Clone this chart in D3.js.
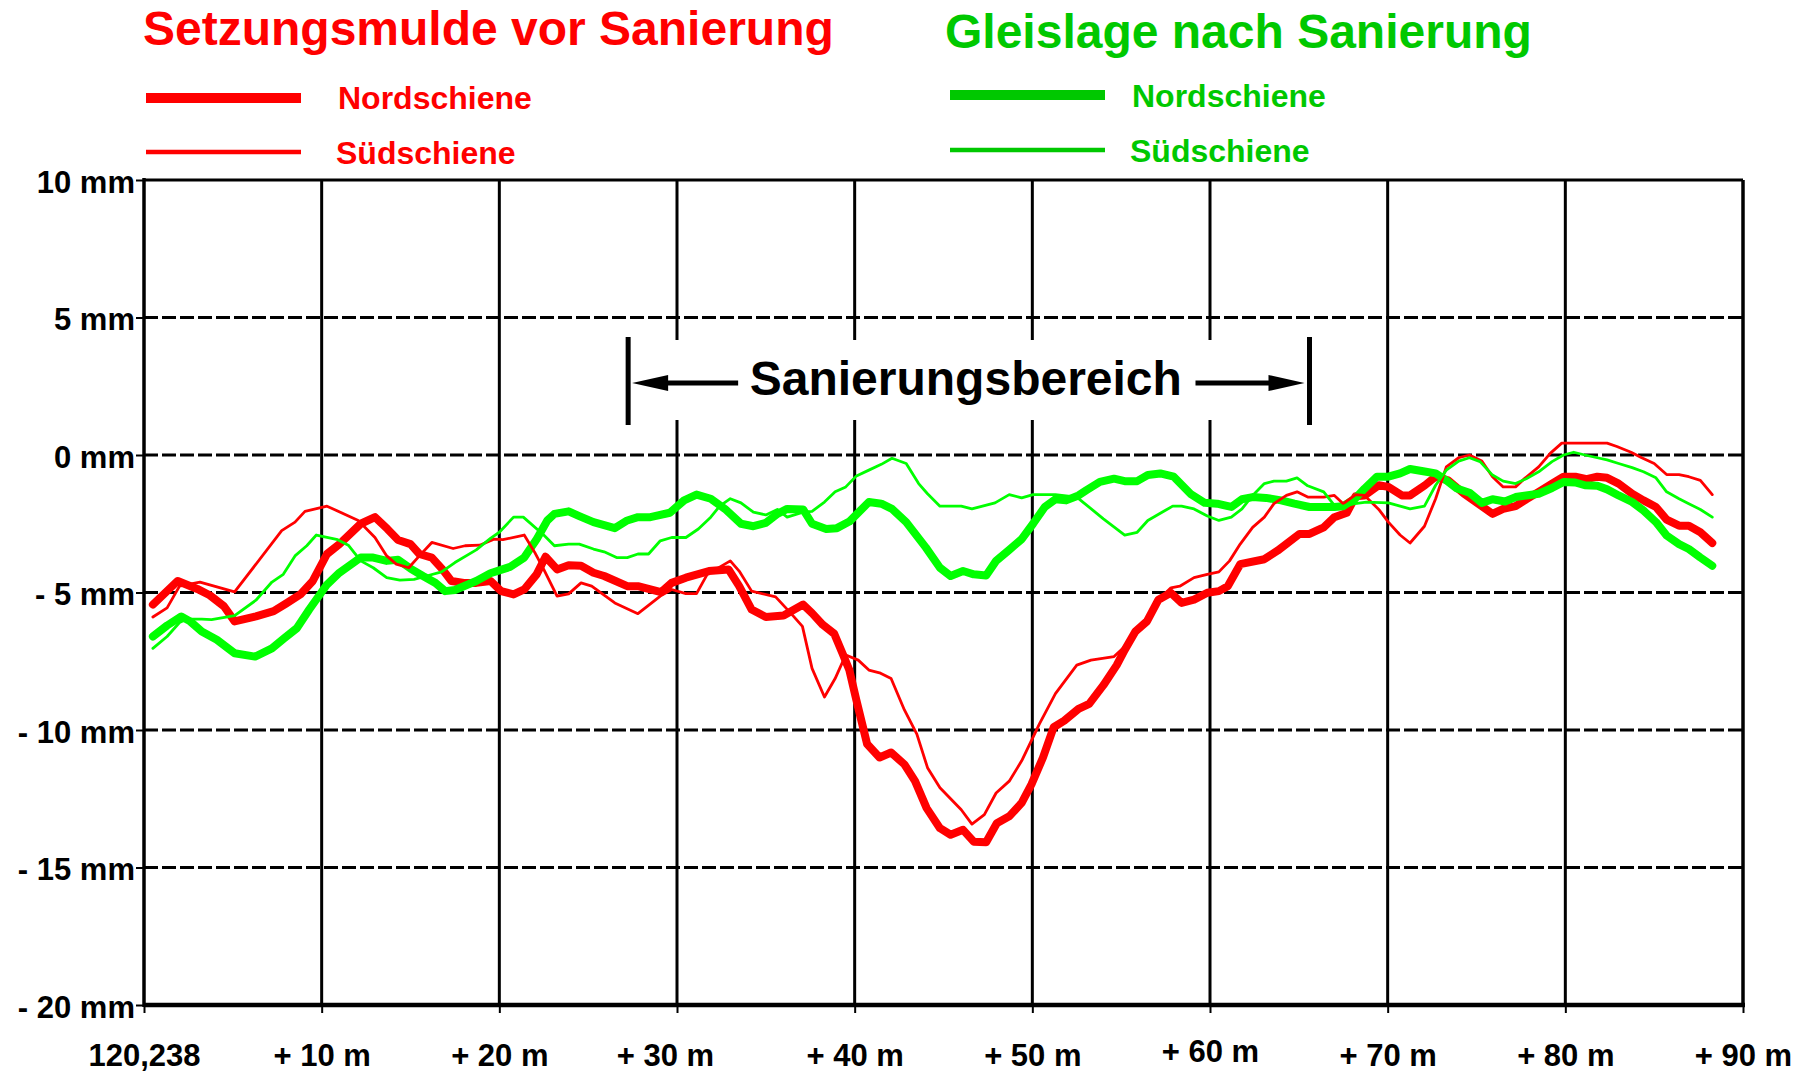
<html>
<head>
<script src="https://cdn.jsdelivr.net/npm/d3@7"></script>
<style>
    body {
        margin: 0;
        background: white;
        font-family: "Liberation Sans", Arial, Helvetica, sans-serif;
    }
    text {
        font-weight: bold;
    }
</style>
</head>
<body>
<svg id="Chart"></svg>

<script>
    // Data: [station in m after km 120,238 , height in mm]
    let redNord = [
        [0.5,-5.44],[1.9,-4.58],[3.0,-4.87],[3.7,-5.1],[4.5,-5.5],[5.1,-6.05],[6.3,-5.87],[7.3,-5.68],[8.0,-5.4],
        [8.8,-5.07],[9.5,-4.58],[10.3,-3.6],[11.0,-3.24],[12.2,-2.5],[13.0,-2.26],[13.7,-2.69],[14.3,-3.09],
        [15.0,-3.24],[15.5,-3.6],[16.2,-3.73],[16.8,-4.16],[17.3,-4.58],[18.0,-4.65],[18.7,-4.65],[19.5,-4.58],
        [20.1,-4.95],[20.8,-5.07],[21.4,-4.89],[22.1,-4.34],[22.6,-3.7],[23.25,-4.16],[23.9,-4.01],[24.6,-4.03],
        [25.3,-4.28],[25.9,-4.4],[27.2,-4.77],[27.8,-4.77],[29.1,-4.99],[29.7,-4.65],[30.5,-4.46],[31.8,-4.22],
        [32.9,-4.16],[33.5,-4.77],[34.2,-5.62],[35.0,-5.89],[36.0,-5.84],[37.1,-5.44],[37.6,-5.75],[38.2,-6.17],
        [38.85,-6.5],[39.3,-7.19],[39.7,-7.82],[40.1,-8.92],[40.4,-9.72],[40.7,-10.51],[41.4,-11.0],[42.05,-10.82],
        [42.8,-11.25],[43.4,-11.86],[44.05,-12.84],[44.8,-13.57],[45.4,-13.81],[46.1,-13.63],[46.7,-14.06],
        [47.4,-14.08],[48.0,-13.39],[48.7,-13.14],[49.4,-12.65],[49.95,-11.98],[50.6,-11.0],[51.2,-9.9],
        [51.8,-9.66],[52.6,-9.23],[53.2,-9.05],[54.0,-8.37],[54.75,-7.64],[55.2,-7.09],[55.8,-6.42],[56.45,-6.05],
        [57.1,-5.26],[57.8,-5.01],[58.4,-5.38],[59.1,-5.26],[59.85,-5.01],[60.5,-4.95],[61.0,-4.77],[61.7,-3.97],
        [63.06,-3.79],[63.8,-3.48],[65.04,-2.87],[65.6,-2.87],[66.4,-2.63],[67.0,-2.26],[67.7,-2.1],[68.2,-1.5],
        [68.7,-1.47],[69.5,-1.1],[70.04,-1.16],[70.8,-1.47],[71.26,-1.47],[72.1,-1.1],[72.7,-0.79],[73.4,-0.92],
        [74.3,-1.41],[75.1,-1.77],[75.9,-2.14],[76.5,-1.96],[77.2,-1.86],[77.8,-1.61],[78.5,-1.34],[79.25,-1.04],
        [79.9,-0.79],[80.56,-0.79],[81.2,-0.88],[81.8,-0.79],[82.35,-0.83],[83.0,-1.04],[83.76,-1.41],[84.4,-1.65],
        [85.1,-1.89],[85.7,-2.35],[86.4,-2.57],[86.95,-2.57],[87.6,-2.81],[88.27,-3.2]
    ];

    let redSued = [
        [0.5,-5.89],[1.3,-5.56],[2.0,-4.77],[3.15,-4.62],[5.1,-4.98],[7.75,-2.75],[8.5,-2.44],[9.06,-2.05],
        [10.3,-1.86],[12.06,-2.38],[13.0,-3.0],[13.66,-3.67],[14.2,-3.97],[14.9,-4.1],[15.5,-3.67],[16.2,-3.18],
        [17.4,-3.4],[18.07,-3.3],[18.9,-3.28],[19.7,-3.06],[20.2,-3.08],[21.4,-2.91],[22.0,-3.55],[22.5,-4.16],
        [23.25,-5.13],[23.9,-5.05],[24.6,-4.65],[25.2,-4.77],[26.5,-5.38],[27.8,-5.77],[29.06,-5.13],[29.7,-4.89],
        [30.5,-5.04],[31.1,-5.04],[31.7,-4.34],[33.0,-3.85],[33.5,-4.22],[34.2,-4.95],[35.55,-5.16],[36.4,-5.75],
        [37.06,-6.23],[37.6,-7.76],[38.3,-8.8],[38.9,-8.13],[39.5,-7.27],[40.2,-7.46],[40.8,-7.82],[41.4,-7.92],
        [42.05,-8.13],[42.8,-9.27],[43.5,-10.15],[44.1,-11.37],[44.8,-12.1],[46.0,-12.9],[46.6,-13.42],
        [47.3,-13.08],[47.96,-12.29],[48.7,-11.86],[49.4,-11.12],[50.4,-9.78],[51.3,-8.68],[52.5,-7.64],
        [53.3,-7.46],[54.6,-7.33],[55.1,-7.03],[55.9,-6.48],[56.45,-5.93],[57.1,-5.26],[57.8,-4.83],[58.3,-4.77],
        [59.1,-4.46],[59.85,-4.34],[60.5,-4.25],[61.1,-3.85],[61.7,-3.24],[62.4,-2.63],[63.06,-2.26],[63.6,-1.77],
        [64.3,-1.47],[64.9,-1.34],[65.5,-1.53],[66.4,-1.53],[67.0,-1.47],[67.5,-1.77],[68.2,-1.44],[68.7,-1.47],
        [69.5,-1.98],[70.04,-2.44],[70.7,-2.91],[71.26,-3.2],[72.07,-2.59],[72.7,-1.59],[73.3,-0.43],[74.0,-0.1],
        [74.6,0],[75.3,-0.22],[75.9,-0.79],[76.5,-1.16],[77.2,-1.16],[77.7,-0.86],[78.5,-0.43],[79.15,0.06],
        [79.8,0.43],[80.56,0.43],[81.6,0.43],[82.35,0.43],[82.9,0.31],[83.7,0.1],[84.3,-0.1],[85.0,-0.31],
        [85.7,-0.71],[86.4,-0.71],[86.95,-0.79],[87.6,-0.92],[88.27,-1.44]
    ];

    let greenNord = [
        [0.5,-6.6],[1.3,-6.2],[2.1,-5.87],[2.6,-6.05],[3.25,-6.42],[4.1,-6.72],[5.1,-7.21],[6.25,-7.33],[7.2,-7.03],
        [7.9,-6.66],[8.6,-6.3],[9.3,-5.62],[10.3,-4.71],[11.0,-4.28],[12.2,-3.73],[12.9,-3.73],[13.66,-3.85],
        [14.3,-3.81],[15.0,-4.13],[15.7,-4.4],[16.4,-4.65],[16.95,-4.95],[17.5,-4.91],[18.7,-4.58],[19.5,-4.3],
        [20.6,-4.07],[21.4,-3.73],[22.1,-3.06],[22.7,-2.38],[23.1,-2.14],[23.9,-2.05],[24.5,-2.22],[25.3,-2.44],
        [26.5,-2.66],[27.2,-2.38],[27.8,-2.26],[28.5,-2.26],[29.6,-2.1],[30.4,-1.65],[31.1,-1.44],[31.9,-1.59],
        [32.7,-1.96],[33.6,-2.5],[34.3,-2.59],[35.0,-2.47],[35.65,-2.14],[36.2,-1.96],[37.1,-1.98],[37.6,-2.5],
        [38.4,-2.69],[39.0,-2.66],[39.7,-2.42],[40.8,-1.71],[41.5,-1.77],[42.1,-1.96],[42.9,-2.44],[44.0,-3.36],
        [44.8,-4.1],[45.4,-4.4],[46.1,-4.22],[46.7,-4.34],[47.4,-4.38],[47.96,-3.85],[48.7,-3.45],[49.4,-3.06],
        [50.04,-2.5],[50.7,-1.89],[51.3,-1.61],[51.9,-1.65],[52.6,-1.47],[53.05,-1.28],[53.8,-0.98],[54.6,-0.86],
        [55.2,-0.95],[55.9,-0.95],[56.5,-0.73],[57.2,-0.67],[57.96,-0.79],[58.9,-1.41],[59.7,-1.74],[60.4,-1.77],
        [61.2,-1.89],[61.8,-1.61],[62.4,-1.53],[63.15,-1.56],[64.0,-1.65],[64.75,-1.77],[65.6,-1.89],[67.0,-1.89],
        [67.5,-1.86],[68.16,-1.59],[68.7,-1.22],[69.4,-0.79],[70.04,-0.79],[70.7,-0.67],[71.26,-0.51],[72.0,-0.59],
        [72.7,-0.67],[73.3,-0.92],[73.9,-1.22],[74.6,-1.37],[75.3,-1.74],[75.9,-1.61],[76.6,-1.69],[77.2,-1.53],
        [77.8,-1.47],[78.5,-1.41],[79.25,-1.2],[79.9,-0.98],[80.56,-1.0],[81.1,-1.1],[81.8,-1.12],[82.35,-1.25],
        [83.0,-1.47],[83.76,-1.71],[84.4,-2.02],[85.1,-2.44],[85.7,-2.93],[86.4,-3.24],[86.95,-3.42],[87.6,-3.73],
        [88.27,-4.03]
    ];

    let greenSued = [
        [0.5,-7.03],[1.3,-6.6],[2.0,-6.09],[2.4,-5.97],[3.25,-5.97],[3.8,-5.99],[5.1,-5.84],[6.3,-5.28],[7.2,-4.62],
        [7.84,-4.34],[8.5,-3.67],[9.16,-3.3],[9.7,-2.91],[10.9,-3.08],[11.5,-3.28],[12.2,-3.85],[12.9,-4.1],
        [13.66,-4.46],[14.4,-4.55],[15.2,-4.52],[15.9,-4.4],[16.75,-4.25],[17.5,-3.91],[18.7,-3.45],[19.5,-3.03],
        [20.0,-2.81],[20.8,-2.26],[21.35,-2.26],[22.5,-2.91],[23.1,-3.3],[23.9,-3.24],[24.5,-3.24],[25.3,-3.42],
        [25.9,-3.52],[26.6,-3.73],[27.2,-3.73],[27.8,-3.6],[28.4,-3.6],[29.06,-3.12],[29.7,-3.0],[30.5,-3.0],
        [31.2,-2.69],[31.9,-2.26],[32.4,-1.86],[33.0,-1.59],[33.6,-1.74],[34.3,-2.08],[35.0,-2.18],[35.65,-1.98],
        [36.2,-2.26],[37.1,-2.08],[37.6,-2.05],[38.3,-1.71],[38.9,-1.34],[39.5,-1.16],[40.1,-0.76],[40.8,-0.55],
        [41.5,-0.34],[42.1,-0.12],[42.9,-0.31],[43.6,-1.04],[44.1,-1.41],[44.8,-1.86],[46.0,-1.86],[46.6,-1.96],
        [47.9,-1.74],[48.7,-1.44],[49.4,-1.56],[50.04,-1.44],[51.3,-1.44],[52.5,-1.53],[54.0,-2.32],[55.2,-2.91],
        [55.9,-2.81],[56.5,-2.38],[57.3,-2.08],[57.9,-1.86],[58.4,-1.86],[59.1,-1.96],[59.85,-2.22],[60.5,-2.38],
        [61.2,-2.26],[61.8,-1.96],[62.4,-1.47],[63.06,-1.04],[63.6,-0.95],[64.3,-0.95],[64.9,-0.83],[65.5,-1.12],
        [66.4,-1.34],[67.0,-1.83],[67.5,-1.86],[68.16,-1.77],[68.8,-1.71],[70.04,-1.74],[71.26,-1.96],[72.07,-1.86],
        [72.7,-1.1],[73.3,-0.55],[74.0,-0.22],[74.6,-0.1],[75.2,-0.24],[75.9,-0.73],[76.5,-0.95],[77.2,-1.04],
        [77.8,-0.86],[78.5,-0.61],[79.25,-0.24],[79.9,0],[80.47,0.1],[81.1,0],[81.8,-0.1],[82.35,-0.18],
        [83.0,-0.31],[83.76,-0.46],[84.4,-0.61],[85.1,-0.83],[85.7,-1.34],[86.4,-1.59],[86.95,-1.77],[87.6,-1.98],
        [88.27,-2.26]
    ];

    let xTicks = [0, 10, 20, 30, 40, 50, 60, 70, 80, 90];
    let xTickLabels = ["120,238", "+ 10 m", "+ 20 m", "+ 30 m", "+ 40 m", "+ 50 m", "+ 60 m", "+ 70 m", "+ 80 m", "+ 90 m"];
    let yTicks = [10, 5, 0, -5, -10, -15, -20];
    let yTickLabels = ["10 mm", "5 mm", "0 mm", "- 5 mm", "- 10 mm", "- 15 mm", "- 20 mm"];

    let sanierungStart = 27.25;
    let sanierungEnd = 65.6;

    const RED = "#ff0000";
    const GREEN_TEXT = "#00c800";
    const GREEN_LINE = "#00ff00";

    // config
    function getConfig() {
        let width = 1798;
        let height = 1075;
        let plot = { left: 144, right: 1743, top: 180, bottom: 1005 };
        let container = d3.select("#Chart")
            .attr("width", width)
            .attr("height", height);
        return { width, height, plot, container };
    }

    // scales
    function getScales(config) {
        let { plot } = config;
        let xScale = d3.scaleLinear()
            .domain([0, 90])
            .range([plot.left, plot.right]);
        let yScale = d3.scaleLinear()
            .domain([-20, 10])
            .range([plot.bottom, plot.top]);
        return { xScale, yScale };
    }

    // grid
    function drawGrid(scales, config) {
        let { xScale, yScale } = scales;
        let { container, plot } = config;
        let grid = container.append("g");

        grid.selectAll(".vgrid")
            .data(xTicks.filter(d => d > 0 && d < 90))
            .enter().append("line")
            .attr("x1", d => xScale(d)).attr("x2", d => xScale(d))
            .attr("y1", plot.top).attr("y2", plot.bottom)
            .attr("stroke", "black")
            .attr("stroke-width", 3);

        grid.selectAll(".hgrid")
            .data(yTicks.filter(d => d < 10 && d > -20))
            .enter().append("line")
            .attr("x1", plot.left).attr("x2", plot.right)
            .attr("y1", d => yScale(d)).attr("y2", d => yScale(d))
            .attr("stroke", "black")
            .attr("stroke-width", 3)
            .attr("stroke-dasharray", "14,4");
    }

    // axes and frame
    function drawAxes(scales, config) {
        let { xScale, yScale } = scales;
        let { container, plot } = config;

        let axisY = d3.axisLeft(yScale)
            .tickValues(yTicks)
            .tickSize(8)
            .tickPadding(1)
            .tickFormat((d, i) => yTickLabels[i]);
        let gy = container.append("g")
            .attr("transform", `translate(${plot.left},0)`)
            .call(axisY);
        gy.select(".domain").remove();
        gy.selectAll(".tick line").attr("stroke-width", 2);
        gy.selectAll(".tick text")
            .attr("dy", "0.4em")
            .style("font-size", "31px")
            .style("font-family", "'Liberation Sans', Arial, sans-serif")
            .attr("fill", "black");

        let axisX = d3.axisBottom(xScale)
            .tickValues(xTicks)
            .tickSize(8)
            .tickFormat((d, i) => xTickLabels[i]);
        let gx = container.append("g")
            .attr("transform", `translate(0,${plot.bottom})`)
            .call(axisX);
        gx.select(".domain").remove();
        gx.selectAll(".tick line").attr("stroke-width", 2);
        gx.selectAll(".tick text")
            .attr("y", d => d == 60 ? 57 : 61)
            .attr("dy", 0)
            .attr("x", d => d == 30 ? -12 : 0)
            .style("font-size", "31px")
            .style("font-family", "'Liberation Sans', Arial, sans-serif")
            .attr("fill", "black");

        // frame
        let frame = container.append("g").attr("fill", "none").attr("stroke", "black");
        frame.append("line")
            .attr("x1", plot.left).attr("x2", plot.right)
            .attr("y1", plot.top).attr("y2", plot.top)
            .attr("stroke-width", 3);
        frame.append("line")
            .attr("x1", plot.right).attr("x2", plot.right)
            .attr("y1", plot.top).attr("y2", plot.bottom)
            .attr("stroke-width", 3.5);
        frame.append("line")
            .attr("x1", plot.left).attr("x2", plot.left)
            .attr("y1", plot.top - 2).attr("y2", plot.bottom + 2)
            .attr("stroke-width", 3.5);
        frame.append("line")
            .attr("x1", plot.left).attr("x2", plot.right + 2)
            .attr("y1", plot.bottom).attr("y2", plot.bottom)
            .attr("stroke-width", 4.5);
    }

    // Sanierungsbereich annotation
    function drawAnnotation(scales, config) {
        let { xScale } = scales;
        let { container } = config;
        let g = container.append("g");
        let x0 = xScale(sanierungStart);
        let x1 = xScale(sanierungEnd);
        let yMid = 383;

        g.append("rect")
            .attr("x", x0).attr("y", 340)
            .attr("width", x1 - x0).attr("height", 80)
            .attr("fill", "white");

        g.selectAll(".bar")
            .data([x0, x1])
            .enter().append("line")
            .attr("x1", d => d).attr("x2", d => d)
            .attr("y1", 337).attr("y2", 425)
            .attr("stroke", "black")
            .attr("stroke-width", 5);

        g.append("line")
            .attr("x1", x0 + 20).attr("x2", x0 + 110)
            .attr("y1", yMid).attr("y2", yMid)
            .attr("stroke", "black").attr("stroke-width", 5);
        g.append("path")
            .attr("d", `M${x0 + 4},${yMid} L${x0 + 40},${yMid - 8} L${x0 + 40},${yMid + 8} Z`)
            .attr("fill", "black");

        g.append("line")
            .attr("x1", x1 - 114).attr("x2", x1 - 20)
            .attr("y1", yMid).attr("y2", yMid)
            .attr("stroke", "black").attr("stroke-width", 5);
        g.append("path")
            .attr("d", `M${x1 - 5},${yMid} L${x1 - 41},${yMid - 8} L${x1 - 41},${yMid + 8} Z`)
            .attr("fill", "black");

        g.append("text")
            .attr("x", (x0 + x1) / 2 - 3)
            .attr("y", 395)
            .attr("text-anchor", "middle")
            .style("font-size", "48px")
            .attr("fill", "black")
            .text("Sanierungsbereich");
    }

    // lines
    function drawSeries(scales, config) {
        let { xScale, yScale } = scales;
        let { container } = config;
        let line = d3.line()
            .x(d => xScale(d[0]))
            .y(d => yScale(d[1]));

        let series = [
            { data: redNord, color: RED, width: 8 },
            { data: greenNord, color: GREEN_LINE, width: 8 },
            { data: redSued, color: RED, width: 2.8 },
            { data: greenSued, color: GREEN_LINE, width: 2.8 }
        ];

        container.append("g")
            .selectAll("path")
            .data(series)
            .enter().append("path")
            .attr("d", s => line(s.data))
            .attr("fill", "none")
            .attr("stroke", s => s.color)
            .attr("stroke-width", s => s.width)
            .attr("stroke-linejoin", "round")
            .attr("stroke-linecap", "round");
    }

    // titles + legend
    function drawLegend(config) {
        let { container } = config;
        let groups = [
            { title: "Setzungsmulde vor Sanierung", color: RED, tx: 143, ty: 45,
              lx: 146, ly: [98, 152], textX: 338, textY: [109, 164] },
            { title: "Gleislage nach Sanierung", color: GREEN_TEXT, tx: 945, ty: 48,
              lx: 950, ly: [95, 150], textX: 1132, textY: [107, 162] }
        ];
        groups.forEach(gr => {
            let g = container.append("g");
            g.append("text")
                .attr("x", gr.tx).attr("y", gr.ty)
                .style("font-size", "48px")
                .attr("fill", gr.color)
                .text(gr.title);
            g.append("line")
                .attr("x1", gr.lx).attr("x2", gr.lx + 155)
                .attr("y1", gr.ly[0]).attr("y2", gr.ly[0])
                .attr("stroke", gr.color).attr("stroke-width", 10);
            g.append("line")
                .attr("x1", gr.lx).attr("x2", gr.lx + 155)
                .attr("y1", gr.ly[1]).attr("y2", gr.ly[1])
                .attr("stroke", gr.color).attr("stroke-width", 4.5);
            g.append("text")
                .attr("x", gr.textX).attr("y", gr.textY[0])
                .style("font-size", "32px")
                .attr("fill", gr.color)
                .text("Nordschiene");
            g.append("text")
                .attr("x", gr.textX - 2).attr("y", gr.textY[1])
                .style("font-size", "32px")
                .attr("fill", gr.color)
                .text("Südschiene");
        });
    }

    function drawChart() {
        let config = getConfig();
        let scales = getScales(config);
        drawGrid(scales, config);
        drawAnnotation(scales, config);
        drawSeries(scales, config);
        drawAxes(scales, config);
        drawLegend(config);
    }

    drawChart();
</script>
</body>
</html>
